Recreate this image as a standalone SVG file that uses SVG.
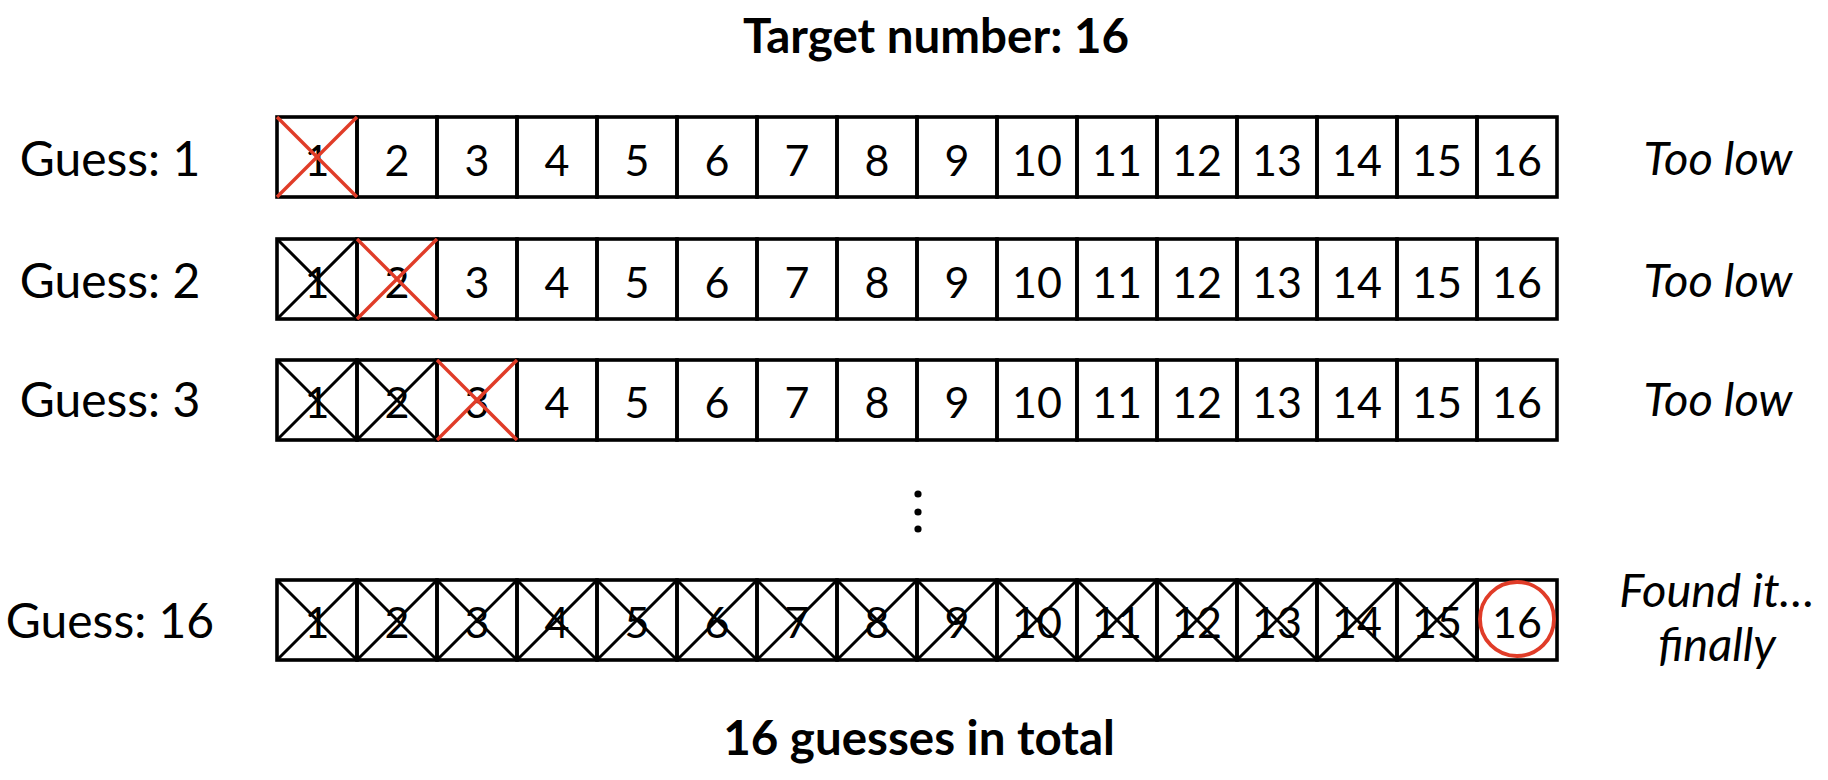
<svg xmlns="http://www.w3.org/2000/svg" width="1828" height="780" viewBox="0 0 1828 780">
<style>
text{font-family:Lato,"Noto Sans","Liberation Sans",sans-serif;fill:#000;text-anchor:middle}
.lbl{font-size:48px}
.num{font-size:43px}
.ttl{font-size:47.5px;font-weight:bold}
.res{font-size:47px;font-style:italic}
.cell{fill:none;stroke:#000;stroke-width:3.6}
.x{stroke:#000;stroke-width:3;fill:none}
.xr{stroke:#e03c28;stroke-width:3.4;fill:none}
.found{fill:none;stroke:#e03c28;stroke-width:3.8}
</style>
<defs>
<g id="cells">
<rect class="cell" x="277" y="0" width="80" height="80"/>
<rect class="cell" x="357" y="0" width="80" height="80"/>
<rect class="cell" x="437" y="0" width="80" height="80"/>
<rect class="cell" x="517" y="0" width="80" height="80"/>
<rect class="cell" x="597" y="0" width="80" height="80"/>
<rect class="cell" x="677" y="0" width="80" height="80"/>
<rect class="cell" x="757" y="0" width="80" height="80"/>
<rect class="cell" x="837" y="0" width="80" height="80"/>
<rect class="cell" x="917" y="0" width="80" height="80"/>
<rect class="cell" x="997" y="0" width="80" height="80"/>
<rect class="cell" x="1077" y="0" width="80" height="80"/>
<rect class="cell" x="1157" y="0" width="80" height="80"/>
<rect class="cell" x="1237" y="0" width="80" height="80"/>
<rect class="cell" x="1317" y="0" width="80" height="80"/>
<rect class="cell" x="1397" y="0" width="80" height="80"/>
<rect class="cell" x="1477" y="0" width="80" height="80"/>
</g>
<g id="cross"><line x1="0" y1="0" x2="80" y2="80"/><line x1="80" y1="0" x2="0" y2="80"/></g>
</defs>

<g id="title"><text class="ttl" x="936" y="53">Target number: 16</text></g>

<g id="row1" transform="translate(0,117)">
<text class="lbl" x="110" y="59">Guess: 1</text>
<use href="#cells"/>
<g class="num">
<text x="317" y="59">1</text><text x="397" y="59">2</text><text x="477" y="59">3</text><text x="557" y="59">4</text>
<text x="637" y="59">5</text><text x="717" y="59">6</text><text x="797" y="59">7</text><text x="877" y="59">8</text>
<text x="957" y="59">9</text><text x="1037" y="59">10</text><text x="1117" y="59">11</text><text x="1197" y="59">12</text>
<text x="1277" y="59">13</text><text x="1357" y="59">14</text><text x="1437" y="59">15</text><text x="1517" y="59">16</text>
</g>
<use href="#cross" class="xr" x="277"/>
<text class="res" x="1718" y="58">Too low</text>
</g>

<g id="row2" transform="translate(0,239)">
<text class="lbl" x="110" y="59">Guess: 2</text>
<use href="#cells"/>
<g class="num">
<text x="317" y="59">1</text><text x="397" y="59">2</text><text x="477" y="59">3</text><text x="557" y="59">4</text>
<text x="637" y="59">5</text><text x="717" y="59">6</text><text x="797" y="59">7</text><text x="877" y="59">8</text>
<text x="957" y="59">9</text><text x="1037" y="59">10</text><text x="1117" y="59">11</text><text x="1197" y="59">12</text>
<text x="1277" y="59">13</text><text x="1357" y="59">14</text><text x="1437" y="59">15</text><text x="1517" y="59">16</text>
</g>
<use href="#cross" class="x" x="277"/>
<use href="#cross" class="xr" x="357"/>
<text class="res" x="1718" y="58">Too low</text>
</g>

<g id="row3" transform="translate(0,360)">
<text class="lbl" x="110" y="57">Guess: 3</text>
<use href="#cells"/>
<g class="num">
<text x="317" y="58">1</text><text x="397" y="58">2</text><text x="477" y="58">3</text><text x="557" y="58">4</text>
<text x="637" y="58">5</text><text x="717" y="58">6</text><text x="797" y="58">7</text><text x="877" y="58">8</text>
<text x="957" y="58">9</text><text x="1037" y="58">10</text><text x="1117" y="58">11</text><text x="1197" y="58">12</text>
<text x="1277" y="58">13</text><text x="1357" y="58">14</text><text x="1437" y="58">15</text><text x="1517" y="58">16</text>
</g>
<use href="#cross" class="x" x="277"/>
<use href="#cross" class="x" x="357"/>
<use href="#cross" class="xr" x="437"/>
<text class="res" x="1718" y="56">Too low</text>
</g>

<g id="ellipsis" fill="#000">
<circle cx="918" cy="494" r="3.6"/>
<circle cx="918" cy="512" r="3.6"/>
<circle cx="918" cy="529" r="3.6"/>
</g>

<g id="row4" transform="translate(0,580)">
<text class="lbl" x="110" y="58">Guess: 16</text>
<use href="#cells"/>
<g class="num">
<text x="317" y="58">1</text><text x="397" y="58">2</text><text x="477" y="58">3</text><text x="557" y="58">4</text>
<text x="637" y="58">5</text><text x="717" y="58">6</text><text x="797" y="58">7</text><text x="877" y="58">8</text>
<text x="957" y="58">9</text><text x="1037" y="58">10</text><text x="1117" y="58">11</text><text x="1197" y="58">12</text>
<text x="1277" y="58">13</text><text x="1357" y="58">14</text><text x="1437" y="58">15</text><text x="1517" y="58">16</text>
</g>
<g class="x">
<use href="#cross" x="277"/><use href="#cross" x="357"/><use href="#cross" x="437"/><use href="#cross" x="517"/>
<use href="#cross" x="597"/><use href="#cross" x="677"/><use href="#cross" x="757"/><use href="#cross" x="837"/>
<use href="#cross" x="917"/><use href="#cross" x="997"/><use href="#cross" x="1077"/><use href="#cross" x="1157"/>
<use href="#cross" x="1237"/><use href="#cross" x="1317"/><use href="#cross" x="1397"/>
</g>
<circle class="found" cx="1517" cy="39" r="37"/>
<text class="res" x="1717" y="27">Found it…</text>
<text class="res" x="1717" y="81">finally</text>
</g>

<g id="connectors"/>

<g id="footer"><text class="ttl" x="919" y="755">16 guesses in total</text></g>
</svg>
